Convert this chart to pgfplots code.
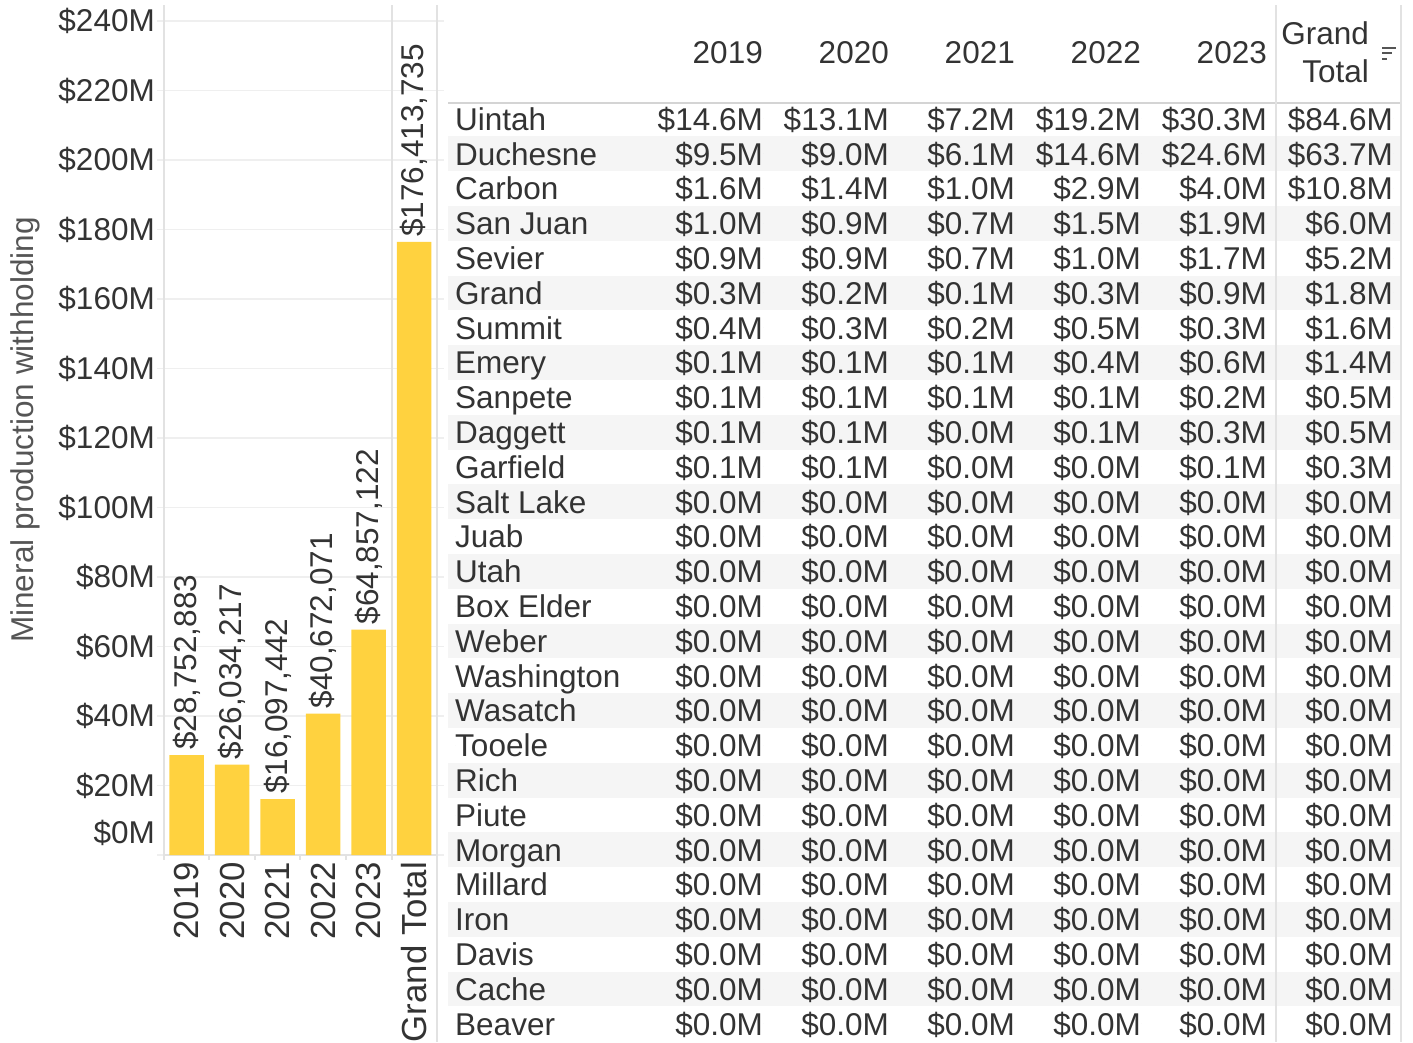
\documentclass[border=0pt]{standalone}
\usepackage{pgfplots}
\pgfplotsset{compat=1.18}
\usepackage{pgfplotstable}
\usepackage{fontspec}
\setmainfont{Liberation Sans}
\definecolor{barY}{HTML}{FFD23F}
\definecolor{txt}{HTML}{333333}
\definecolor{lab}{HTML}{555555}
\definecolor{gridc}{HTML}{EFEFEF}
\definecolor{bord}{HTML}{E2E2E2}
\definecolor{band}{HTML}{F5F5F5}
\definecolor{hdr}{HTML}{D4D4D4}
\newcommand\fs{\fontsize{31.5}{38}\selectfont}
\newcommand\fsx{\fontsize{34.8}{42}\selectfont}
\pgfplotsset{/pgf/number format/assume math mode=true}

\pgfplotstableread{
x y label
0.5 28.752883 28,752,883
1.5 26.034217 26,034,217
2.5 16.097442 16,097,442
3.5 40.672071 40,672,071
4.5 64.857122 64,857,122
5.5 176.413735 176,413,735
}\bars

\pgfplotstableread[col sep=comma]{
name,a,b,c,d,e,t
Uintah,14.6,13.1,7.2,19.2,30.3,84.6
Duchesne,9.5,9.0,6.1,14.6,24.6,63.7
Carbon,1.6,1.4,1.0,2.9,4.0,10.8
San Juan,1.0,0.9,0.7,1.5,1.9,6.0
Sevier,0.9,0.9,0.7,1.0,1.7,5.2
Grand,0.3,0.2,0.1,0.3,0.9,1.8
Summit,0.4,0.3,0.2,0.5,0.3,1.6
Emery,0.1,0.1,0.1,0.4,0.6,1.4
Sanpete,0.1,0.1,0.1,0.1,0.2,0.5
Daggett,0.1,0.1,0.0,0.1,0.3,0.5
Garfield,0.1,0.1,0.0,0.0,0.1,0.3
Salt Lake,0,0,0,0,0,0
Juab,0,0,0,0,0,0
Utah,0,0,0,0,0,0
Box Elder,0,0,0,0,0,0
Weber,0,0,0,0,0,0
Washington,0,0,0,0,0,0
Wasatch,0,0,0,0,0,0
Tooele,0,0,0,0,0,0
Rich,0,0,0,0,0,0
Piute,0,0,0,0,0,0
Morgan,0,0,0,0,0,0
Millard,0,0,0,0,0,0
Iron,0,0,0,0,0,0
Davis,0,0,0,0,0,0
Cache,0,0,0,0,0,0
Beaver,0,0,0,0,0,0
}\counties

\newcommand\valcol[2]{%
\addplot[only marks, mark=*, mark size=0pt, mark options={draw=none,fill=none},
  point meta=explicit,
  nodes near coords={\$\pgfmathprintnumber[fixed,fixed zerofill,precision=1]{\pgfplotspointmeta}M},
  nodes near coords style={anchor=base east, inner sep=0pt, yshift=-11.3pt, font=\fs, text=txt}]
  table[x expr=#1, y expr=\coordindex, meta=#2]{\counties};}

\begin{document}
\begin{tikzpicture}[x=1pt,y=1pt]
\path[use as bounding box] (0,0) rectangle (1413,1042);
% row bands
\foreach \i in {1,3,...,25}{
  \fill[band] (448,{1042-(119+34.8*\i)-17.4}) rectangle (1401,{1042-(119+34.8*\i)+17.4});
}
% chart
\begin{scope}[shift={(164pt,187pt)}]
\begin{axis}[
  at={(0,0)}, anchor=south west, scale only axis,
  width=273pt, height=850pt,
  xmin=0, xmax=6, ymin=0, ymax=244.6,
  axis line style={draw=none},
  clip=false,
  xtick={0.5,1.5,2.5,3.5,4.5,5.5},
  xticklabels={2019,2020,2021,2022,2023,Grand Total},
  x tick style={draw=none},
  xticklabel style={rotate=90, anchor=east, inner sep=0pt, font=\fsx, text=txt},
  ytick={20,40,60,80,100,120,140,160,180,200,220,240},
  yticklabels={\$20M,\$40M,\$60M,\$80M,\$100M,\$120M,\$140M,\$160M,\$180M,\$200M,\$220M,\$240M},
  ymajorgrids, grid style={gridc, line width=1.5pt},
  y tick style={gridc, line width=1.5pt},
  major tick length=7pt, tick align=outside,
  yticklabel style={anchor=east, inner sep=0pt, xshift=-2pt, font=\fs, text=txt},
  extra y ticks={0}, extra y tick labels={\$0M},
  extra y tick style={grid style={bord, line width=1.5pt}, yticklabel style={yshift=22pt}},
  ylabel={Mineral production withholding},
  ylabel style={at={(axis description cs:-0.509,0.5)}, anchor=center, font=\fs, text=lab},
]
\addplot[ybar, bar width=34.5pt, fill=barY, draw=none,
  point meta=explicit symbolic,
  nodes near coords={\$\pgfplotspointmeta},
  nodes near coords style={rotate=90, anchor=west, inner xsep=5pt, inner ysep=0pt, font=\fs, text=txt}]
  table[x=x, y=y, meta=label]{\bars};
\end{axis}
\end{scope}
% table
\begin{axis}[
  at={(0,0)}, anchor=south west, scale only axis,
  width=1413pt, height=1042pt,
  xmin=0, xmax=1413, ymin=-3.4195, ymax=26.523, y dir=reverse,
  hide axis, clip=false]
\addplot[only marks, mark=*, mark size=0pt, mark options={draw=none,fill=none},
  point meta=explicit symbolic,
  nodes near coords={\pgfplotspointmeta},
  nodes near coords style={anchor=base west, inner sep=0pt, yshift=-11.3pt, font=\fs, text=txt}]
  table[x expr=455, y expr=\coordindex, meta=name]{\counties};
\valcol{763}{a}
\valcol{889}{b}
\valcol{1015}{c}
\valcol{1141}{d}
\valcol{1267}{e}
\valcol{1393}{t}
\end{axis}
% headers
\begin{scope}[every node/.style={inner sep=0pt, font=\fs, text=txt}]
\node[anchor=base east] at (763,978.7) {2019};
\node[anchor=base east] at (889,978.7) {2020};
\node[anchor=base east] at (1015,978.7) {2021};
\node[anchor=base east] at (1141,978.7) {2022};
\node[anchor=base east] at (1267,978.7) {2023};
\node[anchor=base east] at (1369,997.7) {Grand};
\node[anchor=base east] at (1369,959.7) {Total};
\end{scope}
\draw[lab, line width=2pt] (1382,994)--(1396,994) (1382,989)--(1392,989) (1382,983)--(1387,983);
% lines
\draw[hdr, line width=2pt] (448,939) -- (1401,939);
\draw[bord, line width=1.5pt] (1276,1037) -- (1276,0);
\draw[bord, line width=1.5pt] (1401,1037) -- (1401,0);
\draw[bord, line width=1.5pt] (437,1037) -- (437,0);
\draw[bord, line width=1.5pt] (392,1037) -- (392,182);
\draw[bord, line width=1.5pt] (164,1037) -- (164,182);
\foreach \xx in {209,255,300,346}{\draw[bord, line width=1.5pt] (\xx,187) -- (\xx,182);}
\end{tikzpicture}
\end{document}
